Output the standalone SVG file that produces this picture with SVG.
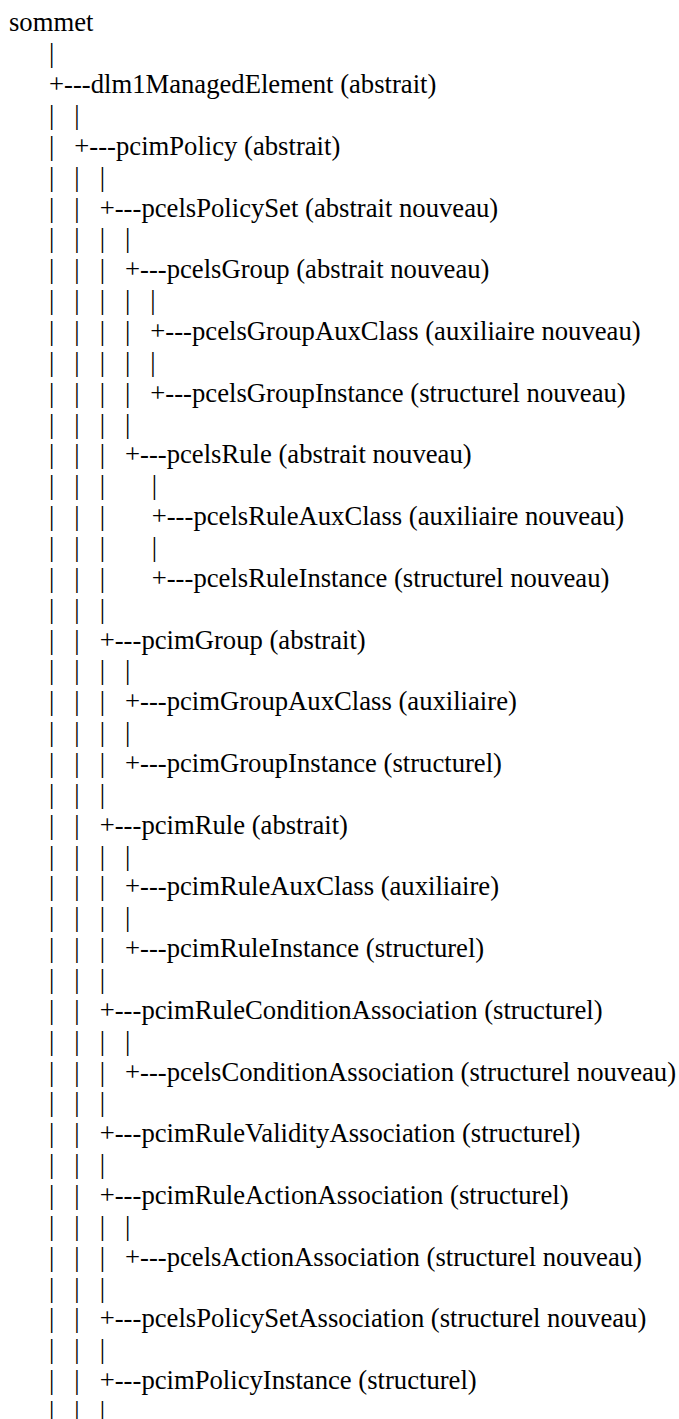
<svg xmlns="http://www.w3.org/2000/svg" width="679" height="1419" viewBox="0 0 679 1419" font-family="Liberation Serif" font-size="26.67" fill="#000">
<rect width="679" height="1419" fill="#fff"/>
<g id="connectors">
<text x="49" y="62.2">|</text>
<text x="49" y="93">+---</text>
<text x="49 74.33" y="123.9">||</text>
<text x="49 74.33" y="154.7">|+---</text>
<text x="49 74.33 99.67" y="185.6">|||</text>
<text x="49 74.33 99.67" y="216.5">||+---</text>
<text x="49 74.33 99.67 125" y="247.3">||||</text>
<text x="49 74.33 99.67 125" y="278.2">|||+---</text>
<text x="49 74.33 99.67 125 150.33" y="309">|||||</text>
<text x="49 74.33 99.67 125 150.33" y="339.9">||||+---</text>
<text x="49 74.33 99.67 125 150.33" y="370.8">|||||</text>
<text x="49 74.33 99.67 125 150.33" y="401.6">||||+---</text>
<text x="49 74.33 99.67 125" y="432.5">||||</text>
<text x="49 74.33 99.67 125" y="463.3">|||+---</text>
<text x="49 74.33 99.67 151.67" y="494.2">||||</text>
<text x="49 74.33 99.67 151.67" y="525.1">|||+---</text>
<text x="49 74.33 99.67 151.67" y="555.9">||||</text>
<text x="49 74.33 99.67 151.67" y="586.8">|||+---</text>
<text x="49 74.33 99.67" y="617.6">|||</text>
<text x="49 74.33 99.67" y="648.5">||+---</text>
<text x="49 74.33 99.67 125" y="679.4">||||</text>
<text x="49 74.33 99.67 125" y="710.2">|||+---</text>
<text x="49 74.33 99.67 125" y="741.1">||||</text>
<text x="49 74.33 99.67 125" y="771.9">|||+---</text>
<text x="49 74.33 99.67" y="802.8">|||</text>
<text x="49 74.33 99.67" y="833.7">||+---</text>
<text x="49 74.33 99.67 125" y="864.5">||||</text>
<text x="49 74.33 99.67 125" y="895.4">|||+---</text>
<text x="49 74.33 99.67 125" y="926.2">||||</text>
<text x="49 74.33 99.67 125" y="957.1">|||+---</text>
<text x="49 74.33 99.67" y="988">|||</text>
<text x="49 74.33 99.67" y="1018.8">||+---</text>
<text x="49 74.33 99.67 125" y="1049.7">||||</text>
<text x="49 74.33 99.67 125" y="1080.5">|||+---</text>
<text x="49 74.33 99.67" y="1111.4">|||</text>
<text x="49 74.33 99.67" y="1142.3">||+---</text>
<text x="49 74.33 99.67" y="1173.1">|||</text>
<text x="49 74.33 99.67" y="1204">||+---</text>
<text x="49 74.33 99.67 125" y="1234.8">||||</text>
<text x="49 74.33 99.67 125" y="1265.7">|||+---</text>
<text x="49 74.33 99.67" y="1296.6">|||</text>
<text x="49 74.33 99.67" y="1327.4">||+---</text>
<text x="49 74.33 99.67" y="1358.3">|||</text>
<text x="49 74.33 99.67" y="1389.1">||+---</text>
<text x="49 74.33 99.67" y="1420">|||</text>
</g>
<g id="sommet"><text x="9" y="31.3">sommet</text></g>
<g id="dlm1ManagedElement"><text x="90.7" y="93">dlm1ManagedElement (abstrait)</text></g>
<g id="pcimPolicy"><text x="116" y="154.7">pcimPolicy (abstrait)</text></g>
<g id="pcelsPolicySet"><text x="141.4" y="216.5">pcelsPolicySet (abstrait nouveau)</text></g>
<g id="pcelsGroup"><text x="166.7" y="278.2">pcelsGroup (abstrait nouveau)</text></g>
<g id="pcelsGroupAuxClass"><text x="192" y="339.9">pcelsGroupAuxClass (auxiliaire nouveau)</text></g>
<g id="pcelsGroupInstance"><text x="192" y="401.6">pcelsGroupInstance (structurel nouveau)</text></g>
<g id="pcelsRule"><text x="166.7" y="463.3">pcelsRule (abstrait nouveau)</text></g>
<g id="pcelsRuleAuxClass"><text x="193.4" y="525.1">pcelsRuleAuxClass (auxiliaire nouveau)</text></g>
<g id="pcelsRuleInstance"><text x="193.4" y="586.8">pcelsRuleInstance (structurel nouveau)</text></g>
<g id="pcimGroup"><text x="141.4" y="648.5">pcimGroup (abstrait)</text></g>
<g id="pcimGroupAuxClass"><text x="166.7" y="710.2">pcimGroupAuxClass (auxiliaire)</text></g>
<g id="pcimGroupInstance"><text x="166.7" y="771.9">pcimGroupInstance (structurel)</text></g>
<g id="pcimRule"><text x="141.4" y="833.7">pcimRule (abstrait)</text></g>
<g id="pcimRuleAuxClass"><text x="166.7" y="895.4">pcimRuleAuxClass (auxiliaire)</text></g>
<g id="pcimRuleInstance"><text x="166.7" y="957.1">pcimRuleInstance (structurel)</text></g>
<g id="pcimRuleConditionAssociation"><text x="141.4" y="1018.8">pcimRuleConditionAssociation (structurel)</text></g>
<g id="pcelsConditionAssociation"><text x="166.7" y="1080.5">pcelsConditionAssociation (structurel nouveau)</text></g>
<g id="pcimRuleValidityAssociation"><text x="141.4" y="1142.3">pcimRuleValidityAssociation (structurel)</text></g>
<g id="pcimRuleActionAssociation"><text x="141.4" y="1204">pcimRuleActionAssociation (structurel)</text></g>
<g id="pcelsActionAssociation"><text x="166.7" y="1265.7">pcelsActionAssociation (structurel nouveau)</text></g>
<g id="pcelsPolicySetAssociation"><text x="141.4" y="1327.4">pcelsPolicySetAssociation (structurel nouveau)</text></g>
<g id="pcimPolicyInstance"><text x="141.4" y="1389.1">pcimPolicyInstance (structurel)</text></g>
</svg>
